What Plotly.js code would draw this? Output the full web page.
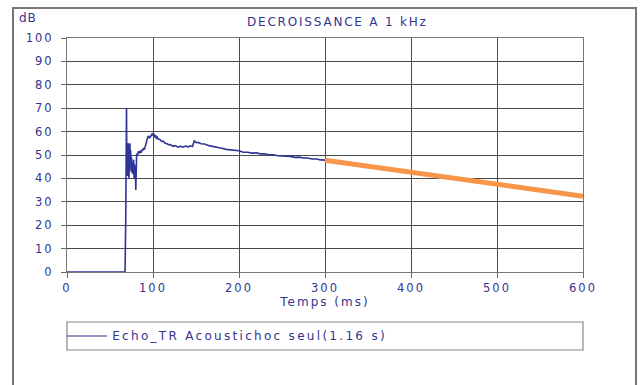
<!DOCTYPE html>
<html>
<head>
<meta charset="utf-8">
<script src="https://cdn.plot.ly/plotly-3.0.1.min.js"></script>
<style>
html,body{margin:0;padding:0;background:#fff;}
#chart{width:640px;height:385px;}
#chart .xtick text, #chart .ytick text{letter-spacing:2px;}
#chart .g-xtitle text{letter-spacing:2px;}
#chart .annotation[data-index="0"] text{letter-spacing:1.8px;}
#chart .annotation[data-index="1"] text{letter-spacing:1px;}
#chart .annotation[data-index="2"] text{letter-spacing:2.3px;}
</style>
</head>
<body>
<div id="chart"></div>
<script>
// Measured decay curve (ms, dB)
const echoTime = [0, 20, 40, 60, 67.5, 68.3, 68.8, 69.2, 69.6, 70.0, 70.4, 70.8, 71.2, 71.6, 72.0, 72.4, 72.8, 73.2, 73.6, 74.0, 74.5, 75.0, 75.5, 76.0, 76.5, 77.0, 77.5, 78.0, 78.5, 79.0, 79.5, 80.0, 80.5, 81.0, 82.0, 83.0, 84.0, 85.0, 86.0, 87.0, 88.0, 89.0, 90.0, 91.0, 92.0, 93.0, 94.0, 95.0, 96.0, 97.0, 98.0, 99.0, 100.0, 101.0, 102.0, 103.0, 104.0, 105.0, 106.0, 108.0, 110.0, 112.0, 114.0, 116.0, 118.0, 120.0, 123.0, 126.0, 129.0, 132.0, 135.0, 138.0, 141.0, 144.0, 146.0, 147.0, 148.0, 150.0, 153.0, 156.0, 160.0, 165.0, 170.0, 175.0, 180.0, 185.0, 190.0, 195.0, 200.0, 205.0, 210.0, 215.0, 220.0, 225.0, 230.0, 235.0, 240.0, 245.0, 250.0, 255.0, 260.0, 265.0, 270.0, 275.0, 280.0, 285.0, 290.0, 295.0, 300.0];
const echoDb   = [0, 0, 0, 0, 0, 22, 50, 70, 44, 53, 41, 55, 46, 54, 40, 51, 44, 55, 45, 52, 43, 49, 46, 42, 47, 44, 48, 40, 46, 43, 45, 35, 47, 50.5, 50, 51.5, 50.8, 51.5, 51, 52.2, 51.8, 53, 52.3, 54, 55.5, 57.5, 57.8, 58, 57.2, 57.8, 58.3, 59, 58.5, 58.8, 57.8, 58.2, 57.2, 57.6, 56.8, 56.6, 55.8, 55.9, 55, 54.9, 54.4, 54.5, 53.8, 53.9, 53.4, 53.7, 53.4, 53.8, 53.5, 53.9, 53.7, 55.6, 56, 55.4, 55.3, 54.8, 54.7, 54.0, 53.7, 53.1, 52.9, 52.4, 52.2, 51.8, 51.8, 51.2, 51.2, 50.8, 50.9, 50.5, 50.5, 50.1, 50.1, 49.7, 49.7, 49.4, 49.4, 49.0, 49.1, 48.7, 48.7, 48.3, 48.3, 47.9, 47.8];
// Extrapolated linear decay
const fitTime = [300, 600];
const fitDb   = [47.8, 32.4];

const xTicks = [0, 100, 200, 300, 400, 500, 600];
const yTicks = [0, 10, 20, 30, 40, 50, 60, 70, 80, 90, 100];

const navy = '#33358f';
const fam = 'DejaVu Sans, Verdana, sans-serif';
const tickFont = {family: fam, size: 11.5, color: navy};
const textFont = {family: fam, size: 12, color: navy};

// pixel helpers for decorations (plot area 67..583 x, 38..272 y)
const L = 67, R = 583, T = 38, B = 272;
const px = p => (p - L) / (R - L);
const py = p => (B - p) / (B - T);

const traces = [
  {x: echoTime, y: echoDb, type: 'scatter', mode: 'lines',
   line: {color: '#2f3497', width: 1.6}, name: 'Echo_TR Acoustichoc seul(1.16 s)', showlegend: false},
  {x: fitTime, y: fitDb, type: 'scatter', mode: 'lines',
   line: {color: '#f7964a', width: 5}, showlegend: false}
];

const axisCommon = {
  showgrid: true, gridcolor: '#4a4a4a', gridwidth: 1,
  showline: true, linecolor: '#777', linewidth: 1, mirror: true,
  ticks: 'outside', ticklen: 5, tickcolor: '#666', tickwidth: 1,
  tickfont: tickFont, zeroline: false, fixedrange: true
};

const layout = {
  width: 640, height: 385,
  margin: {l: L, r: 640 - R, t: T, b: 385 - B, pad: 0},
  paper_bgcolor: '#fff', plot_bgcolor: '#fff',
  font: tickFont,
  xaxis: Object.assign({}, axisCommon, {
    range: [0, 600], tickvals: xTicks, ticktext: xTicks.map(String),
    title: {text: 'Temps (ms)', font: textFont, standoff: 3}
  }),
  yaxis: Object.assign({}, axisCommon, {
    range: [0, 100], tickvals: yTicks, ticktext: yTicks.map(String),
    ticklabelstandoff: 5
  }),
  shapes: [
    // outer frame
    {type: 'rect', xref: 'paper', yref: 'paper', x0: px(13), x1: px(636), y0: py(400), y1: py(8),
     line: {color: '#777', width: 2}},
    // legend box
    {type: 'rect', xref: 'paper', yref: 'paper', x0: px(67), x1: px(583), y0: py(350), y1: py(322),
     line: {color: '#888', width: 1.2}},
    {type: 'line', xref: 'paper', yref: 'paper', x0: px(67), x1: px(107), y0: py(336), y1: py(336),
     line: {color: '#2f3497', width: 1.2}}
  ],
  annotations: [
    {text: 'DECROISSANCE A 1 kHz', xref: 'paper', yref: 'paper', x: px(337), y: py(22),
     xanchor: 'center', yanchor: 'middle', showarrow: false, font: textFont},
    {text: 'dB', xref: 'paper', yref: 'paper', x: px(18), y: py(18),
     xanchor: 'left', yanchor: 'middle', showarrow: false, font: textFont},
    {text: 'Echo_TR Acoustichoc seul(1.16 s)', xref: 'paper', yref: 'paper', x: px(249), y: py(336),
     xanchor: 'center', yanchor: 'middle', showarrow: false, font: textFont}
  ]
};

Plotly.newPlot('chart', traces, layout, {displayModeBar: false, staticPlot: true});
</script>
</body>
</html>
